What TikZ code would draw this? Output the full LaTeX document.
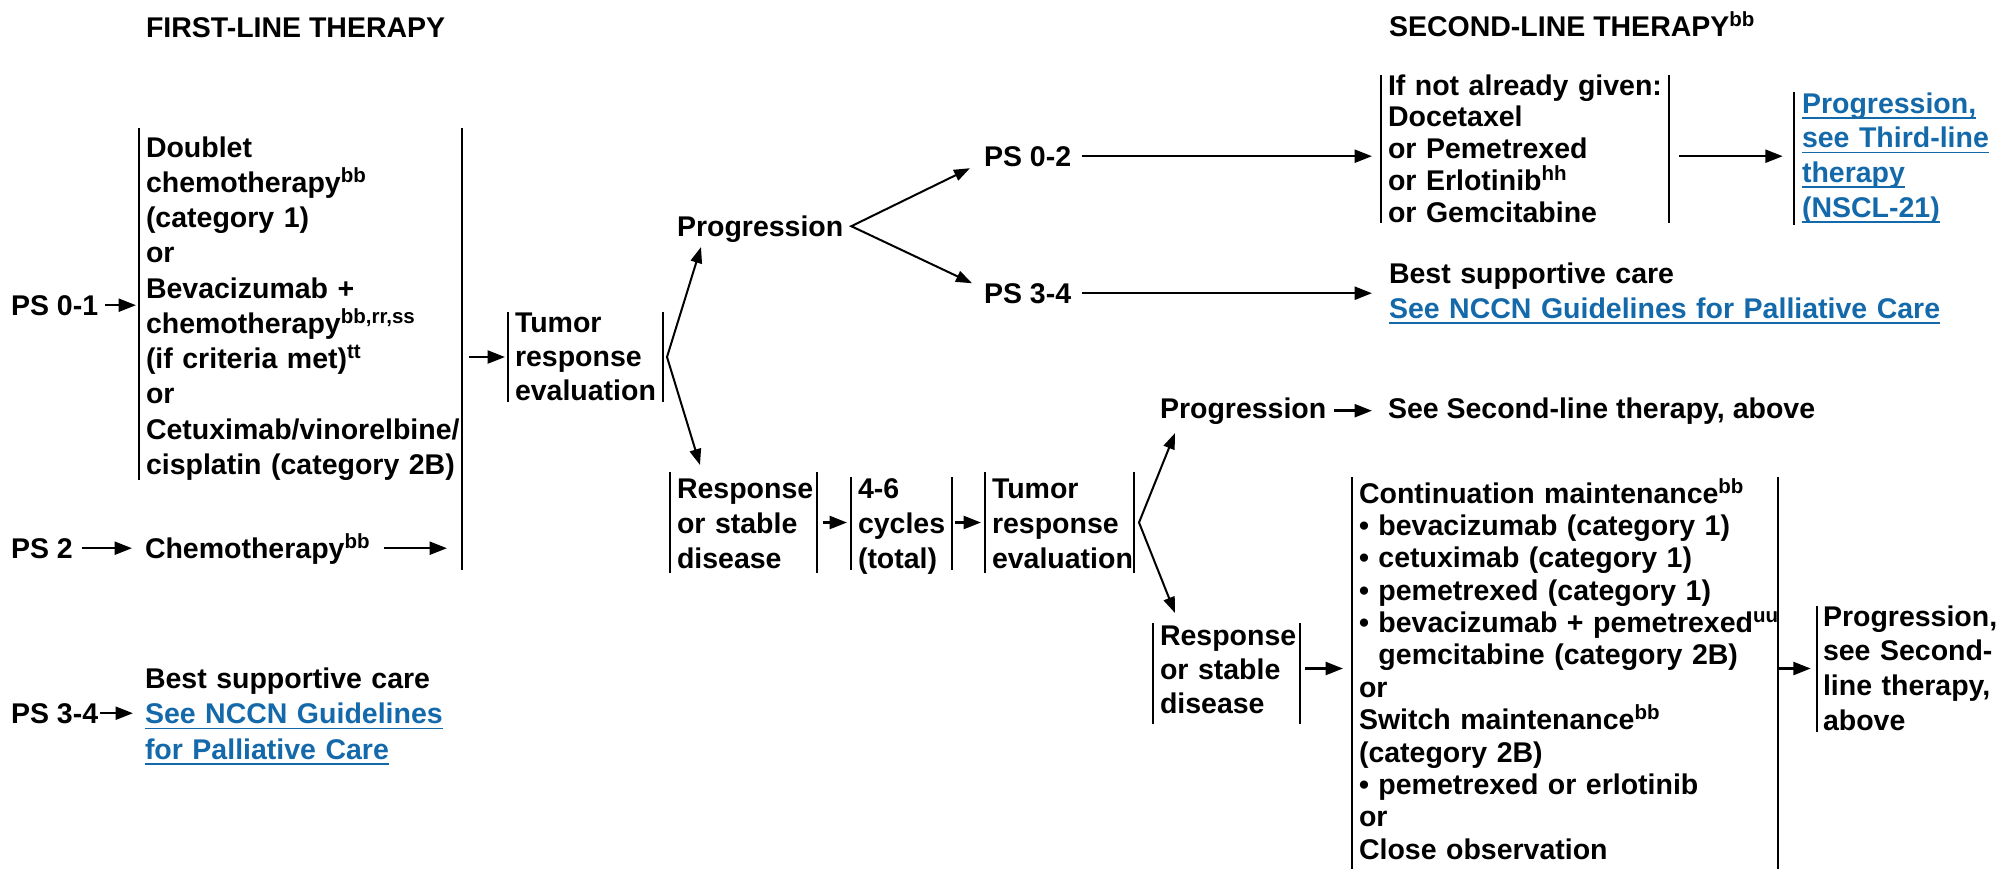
\documentclass[tikz,border=0pt]{standalone}
\usepackage{fontspec}
\setmainfont{Liberation Sans}
\usetikzlibrary{arrows.meta,fit}
\definecolor{nccnblue}{RGB}{20,105,170}
\newcommand{\lnk}[1]{\textcolor{nccnblue}{\setbox0\hbox{#1}\rlap{\rule[-2.2pt]{\wd0}{0.7pt}}\box0}}
\newcommand{\sups}[1]{\raisebox{4pt}{\fontsize{8.2}{8}\selectfont #1}}

\begin{document}
\begin{tikzpicture}[x=0.4pt,y=-0.4pt,
	every node/.style={font=\bfseries\fontsize{11.4}{14}\selectfont,inner sep=0pt,outer sep=0pt,anchor=base west},
	txt/.style={align=left,text width=#1},
	lead/.style={font=\bfseries\fontsize{11.4}{#1}\selectfont},
	barframe/.style={anchor=center,inner sep=0pt,outer sep=0pt},
	bar/.style={line width=0.9pt},
	arr/.style={line width=1pt,-{Triangle[length=7pt,width=5.2pt]}},
	fork/.style={line width=0.8pt,{Triangle[length=6.4pt,width=4.6pt]}-{Triangle[length=6.4pt,width=4.6pt]}}]

	\useasboundingbox (0,0) rectangle (1999,869);

	% headings
	\node (hdrA) at (146,37) {FIRST-LINE THERAPY};
	\node (hdrB) at (1389,36) {SECOND-LINE THERAPY\sups{bb}};

	% first-line therapy
	\node (ps01) at (11,315) {PS 0-1};
	\node (ps2) at (11,558) {PS 2};
	\node (ps34a) at (11,723) {PS 3-4};
	\node[txt=135pt,lead=14.1pt] (optA) at (146,157) {Doublet\\chemotherapy\sups{bb}\\(category 1)\\or\\Bevacizumab +\\chemotherapy\sups{bb,rr,ss}\\(if criteria met)\sups{tt}\\or\\Cetuximab/vinorelbine/\\cisplatin (category 2B)};
	\node (chemo) at (145,558) {Chemotherapy\sups{bb}};
	\node[txt=135pt,lead=14.3pt] (bscA) at (145,688) {Best supportive care\\\lnk{See NCCN Guidelines}\\\lnk{for Palliative Care}};
	\node[txt=66pt,lead=13.6pt] (tre1) at (515,332) {Tumor\\response\\evaluation};

	% second-line therapy
	\node (prog1) at (677,236) {Progression};
	\node (ps02) at (984,166) {PS 0-2};
	\node (ps34b) at (984,303) {PS 3-4};
	\node[txt=118pt,lead=12.7pt] (given) at (1388,95) {If not already given:\\Docetaxel\\or Pemetrexed\\or Erlotinib\sups{hh}\\or Gemcitabine};
	\node[txt=80pt,lead=13.9pt] (third) at (1802,113) {\lnk{Progression,}\\\lnk{see Third-line}\\\lnk{therapy}\\\lnk{(NSCL-21)}};
	\node[txt=235pt] (bscB) at (1389,283) {Best supportive care\\\lnk{See NCCN Guidelines for Palliative Care}};

	% maintenance
	\node[txt=60pt] (resp1) at (677,498) {Response\\or stable\\disease};
	\node[txt=40pt] (cyc) at (858,498) {4-6\\cycles\\(total)};
	\node[txt=66pt] (tre2) at (992,498) {Tumor\\response\\evaluation};
	\node (prog2) at (1160,418) {Progression};
	\node (see2) at (1388,418) {See Second-line therapy, above};
	\node[txt=60pt,lead=13.6pt] (resp2) at (1160,645) {Response\\or stable\\disease};
	\node[txt=178pt,lead=12.95pt] (maint) at (1359,503) {Continuation maintenance\sups{bb}\\
		• bevacizumab (category 1)\\
		• cetuximab (category 1)\\
		• pemetrexed (category 1)\\
		• bevacizumab + pemetrexed\sups{uu}\\
		\hphantom{• }gemcitabine (category 2B)\\
		or\\
		Switch maintenance\sups{bb}\\
		(category 2B)\\
		• pemetrexed or erlotinib\\
		or\\
		Close observation};
	\node[txt=80pt,lead=13.9pt] (prog3) at (1823,626) {Progression,\\see Second-\\line therapy,\\above};

	% bracket frames
	\node[barframe,fit={(139,128) (462,480)}] (fA) {};
	\node[barframe,fit={(508,312) (663,402)}] (fT1) {};
	\node[barframe,fit={(1381,75) (1669,223)}] (fS) {};
	\node[barframe,fit={(1794,92) (1794,225)}] (fP3) {};
	\node[barframe,fit={(670,472) (817,573)}] (fR1) {};
	\node[barframe,fit={(851,477) (952,570)}] (fC) {};
	\node[barframe,fit={(985,472) (1134,573)}] (fT2) {};
	\node[barframe,fit={(1153,623) (1300,724)}] (fR2) {};
	\node[barframe,fit={(1352,477) (1778,869)}] (fM) {};
	\node[barframe,fit={(1817,606) (1817,732)}] (fP) {};

	\draw[bar] (fA.north west) -- (fA.south west);
	\draw[bar] (fA.north east) -- ([yshift=-36pt]fA.south east);
	\draw[bar] (fT1.north west) -- (fT1.south west);
	\draw[bar] (fT1.north east) -- (fT1.south east);
	\draw[bar] (fS.north west) -- (fS.south west);
	\draw[bar] (fS.north east) -- (fS.south east);
	\draw[bar] (fP3.north) -- (fP3.south);
	\draw[bar] (fR1.north west) -- (fR1.south west);
	\draw[bar] (fR1.north east) -- (fR1.south east);
	\draw[bar] (fC.north west) -- (fC.south west);
	\draw[bar] (fC.north east) -- (fC.south east);
	\draw[bar] (fT2.north west) -- (fT2.south west);
	\draw[bar] (fT2.north east) -- (fT2.south east);
	\draw[bar] (fR2.north west) -- (fR2.south west);
	\draw[bar] (fR2.north east) -- (fR2.south east);
	\draw[bar] (fM.north west) -- (fM.south west);
	\draw[bar] (fM.north east) -- (fM.south east);
	\draw[bar] (fP.north) -- (fP.south);

	% arrows
	\draw[arr,shorten <=2.8pt,shorten >=1.2pt] (ps01.east) -- (ps01.east -| fA.west);
	\draw[arr,shorten <=3.6pt,shorten >=5.2pt] (ps2.east) -- (ps2.east -| chemo.west);
	\draw[arr,shorten <=5.6pt,shorten >=6pt] (ps2.east -| chemo.east) -- (ps2.east -| fA.east);
	\draw[arr,shorten <=0.8pt,shorten >=4.8pt] (ps34a.east) -- (ps34a.east -| bscA.west);
	\draw[arr,shorten <=2.8pt,shorten >=1.2pt] (fT1.west -| fA.east) -- (fT1.west);
	\draw[fork] ([xshift=9.6pt,yshift=-2pt]prog1.south west) -- ([xshift=1.6pt]fT1.east) -- ([xshift=12pt,yshift=2.8pt]fR1.north west);
	\draw[fork] ([xshift=-5.6pt,yshift=-4.8pt]ps02.west) -- ([xshift=3.2pt,yshift=1pt]prog1.east) -- ([xshift=-4.8pt,yshift=4pt]ps34b.west);
	\draw[arr,shorten <=4.4pt,shorten >=3.6pt] (ps02.east) -- (ps02.east -| fS.west);
	\draw[arr,shorten <=4.4pt,shorten >=6.8pt] (ps34b.east) -- (ps34b.east -| bscB.west);
	\draw[arr,shorten <=4pt,shorten >=4pt] (ps02.east -| fS.east) -- (ps02.east -| fP3.west);
	\draw[arr,shorten <=2.4pt,shorten >=1.6pt] (fR1.east) -- (fR1.east -| fC.west);
	\draw[arr,shorten <=1.2pt,shorten >=1.6pt] (fR1.east -| fC.east) -- (fR1.east -| fT2.west);
	\draw[fork] ([xshift=6pt,yshift=-3.6pt]prog2.south west) -- ([xshift=2pt]fT2.east) -- ([xshift=8.8pt,yshift=4pt]fR2.north west);
	\draw[arr,shorten <=3.2pt,shorten >=6.4pt] (prog2.east) -- (prog2.east -| see2.west);
	\coordinate (mA) at ([yshift=2pt]fR2.east);
	\draw[arr,shorten <=2pt,shorten >=3.6pt] (mA) -- (mA -| fM.west);
	\draw[arr,shorten <=0.4pt,shorten >=2pt] (mA -| fM.east) -- (mA -| fP.west);
\end{tikzpicture}
\end{document}
